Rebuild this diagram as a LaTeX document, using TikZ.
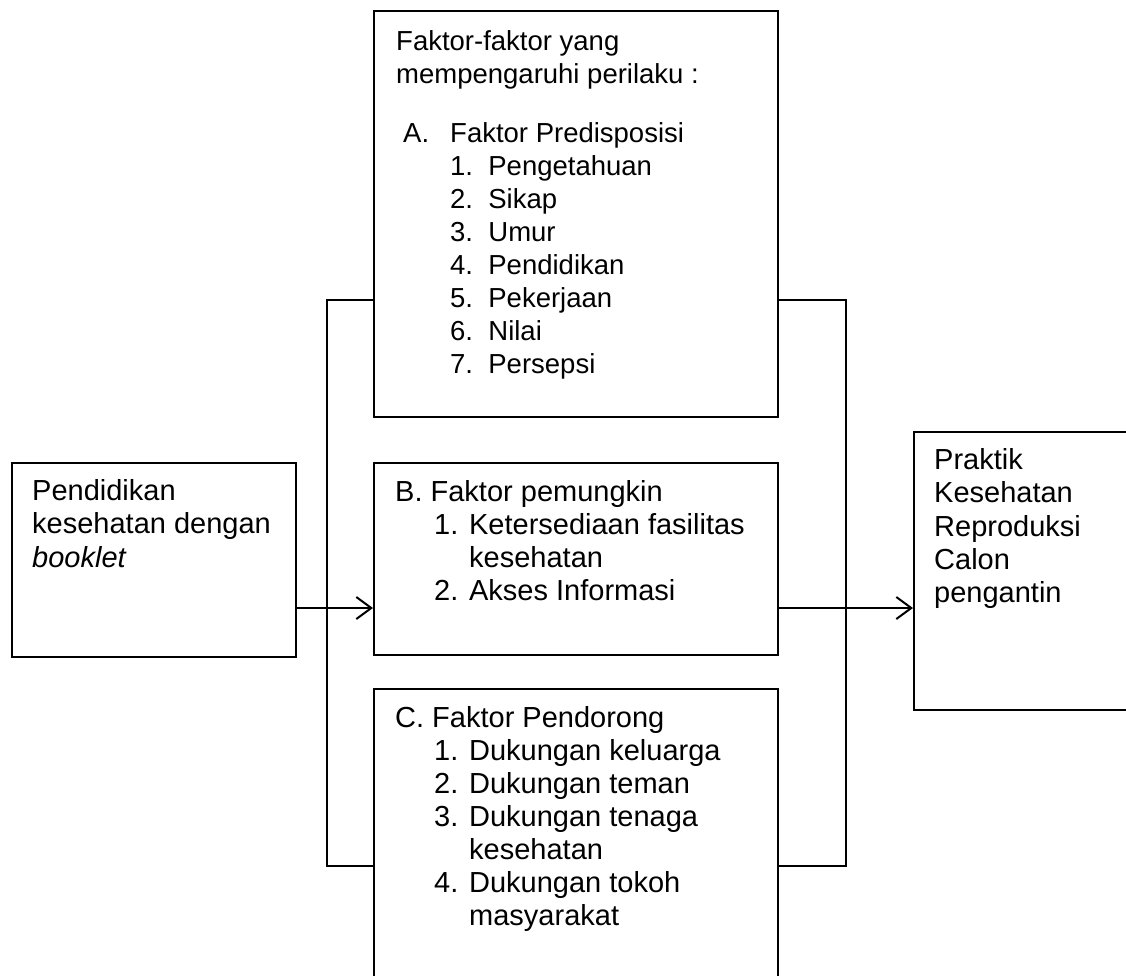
\documentclass[tikz,border=0pt]{standalone}
\usepackage{fontspec}
\setmainfont{Liberation Sans}
\usetikzlibrary{arrows.meta}
\begin{document}
\begin{tikzpicture}[x=1pt,y=-1pt,
  box/.style={draw=black,line width=2pt,rectangle,anchor=north west,inner sep=0pt},
  txt/.style={anchor=base west,inner sep=0pt,font=\fontsize{29}{33}\selectfont},
  txts/.style={anchor=base west,inner sep=0pt,font=\fontsize{27.5}{33}\selectfont},
  conn/.style={line width=2pt},
  arr/.style={line width=2pt,-{Straight Barb[length=15pt,width=22pt,line width=2pt]}}]
\clip (0,0) rectangle (1126,975);
\fill[white] (0,0) rectangle (1126,975);
% boxes
\node[box,minimum width=404pt,minimum height=406pt] (top) at (373,10) {};
\node[box,minimum width=404pt,minimum height=192pt] (mid) at (373,462) {};
\node[box,minimum width=404pt,minimum height=340pt] (bot) at (373,688) {};
\node[box,minimum width=284pt,minimum height=194pt] (left) at (11,462) {};
\node[box,minimum width=260pt,minimum height=278pt] (right) at (913,431) {};
% top box text
\node[txts] (a0) at (396,50) {Faktor-faktor yang};
\node[txts] (a1) at (396,83) {mempengaruhi perilaku :};
\node[txts] (a2) at (403,142) {A.};
\node[txts] (a3) at (450,142) {Faktor Predisposisi};
\node[txts] (a4) at (450,175) {1.\ \ Pengetahuan};
\node[txts] (a5) at (450,208) {2.\ \ Sikap};
\node[txts] (a6) at (450,241) {3.\ \ Umur};
\node[txts] (a7) at (450,274) {4.\ \ Pendidikan};
\node[txts] (a8) at (450,307) {5.\ \ Pekerjaan};
\node[txts] (a9) at (450,340) {6.\ \ Nilai};
\node[txts] (a10) at (450,373) {7.\ \ Persepsi};
% middle box text
\node[txt] (b0) at (395,501) {B. Faktor pemungkin};
\node[txt] (b1) at (434,534) {1. Ketersediaan fasilitas};
\node[txt] (b2) at (469,567) {kesehatan};
\node[txt] (b3) at (434,600) {2. Akses Informasi};
% bottom box text
\node[txt] (c0) at (395,727) {C. Faktor Pendorong};
\node[txt] (c1) at (434,760) {1. Dukungan keluarga};
\node[txt] (c2) at (434,793) {2. Dukungan teman};
\node[txt] (c3) at (434,826) {3. Dukungan tenaga};
\node[txt] (c4) at (469,859) {kesehatan};
\node[txt] (c5) at (434,892) {4. Dukungan tokoh};
\node[txt] (c6) at (469,925) {masyarakat};
% left box text
\node[txt] (l0) at (32,500) {Pendidikan};
\node[txt] (l1) at (32,533) {kesehatan dengan};
\node[txt] (l2) at (32,567) {\itshape booklet};
% right box text
\node[txt] (r0) at (934,469) {Praktik};
\node[txt] (r1) at (934,502) {Kesehatan};
\node[txt] (r2) at (934,536) {Reproduksi};
\node[txt] (r3) at (934,569) {Calon};
\node[txt] (r4) at (934,602) {pengantin};
% connectors
\coordinate (lt) at (327,300);
\coordinate (lb) at (327,866);
\coordinate (rt) at (846,300);
\coordinate (rb) at (846,866);
\coordinate (ay) at (0,608);
\draw[conn] (top.west |- lt) -- (lt) -- (lb) -- (bot.west |- lb);
\draw[conn] (top.east |- rt) -- (rt) -- (rb) -- (bot.east |- rb);
\draw[arr] (left.east |- ay) -- (mid.west |- ay);
\draw[arr] (mid.east |- ay) -- (right.west |- ay);
\end{tikzpicture}
\end{document}
